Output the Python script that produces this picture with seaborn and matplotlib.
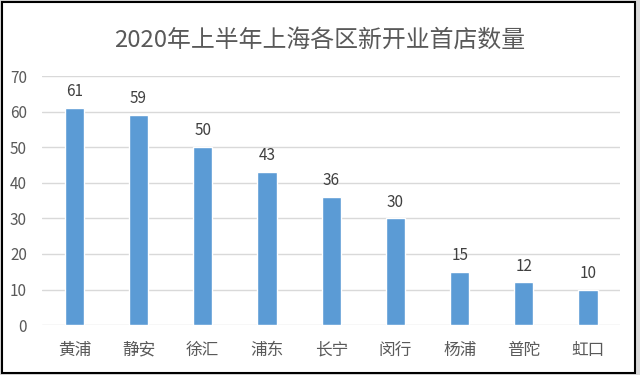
import matplotlib
matplotlib.use('Agg')
import matplotlib.pyplot as plt
import seaborn as sns
import pandas as pd
from matplotlib.patches import Rectangle

# 各区新开业首店数量
districts = ['黄浦', '静安', '徐汇', '浦东', '长宁', '闵行', '杨浦', '普陀', '虹口']
counts = [61, 59, 50, 43, 36, 30, 15, 12, 10]
yticks = [0, 10, 20, 30, 40, 50, 60, 70]
title = '2020年上半年上海各区新开业首店数量'

sns.set_theme(style='white')
plt.rcParams['font.family'] = ['Noto Sans CJK SC', 'DejaVu Sans']

df = pd.DataFrame({'district': districts, 'count': counts})

fig = plt.figure(figsize=(6.4, 3.75), dpi=100)
fig.patch.set_facecolor('#D9D9D9')
# white card with black frame
fig.patches.append(Rectangle((0.003, 0.005), 0.989, 0.99, transform=fig.transFigure,
                             facecolor='white', edgecolor='black', linewidth=1.5, zorder=-1))

ax = fig.add_axes([0.066, 0.133, 0.903, 0.664])
ax.set_zorder(2)
ax.set_facecolor('white')

sns.barplot(data=df, x='district', y='count', color='#5B9BD5', saturation=1,
            width=0.3, ax=ax, zorder=3)

ax.set_ylim(0, 70)
ax.set_yticks(yticks)
ax.yaxis.grid(True, color='#D9D9D9', linewidth=1, zorder=0)
ax.set_xlabel('')
ax.set_ylabel('')
for s in ax.spines.values():
    s.set_visible(False)
ax.tick_params(axis='both', length=0, colors='#595959')
ax.tick_params(axis='x', labelsize=12, pad=12)
ax.tick_params(axis='y', labelsize=11, pad=11)

for i, v in enumerate(counts):
    ax.text(i, v + 2.2, str(v), ha='center', va='bottom', fontsize=11, color='#404040')

fig.text(0.5, 0.893, title, ha='center', va='center', fontsize=17.2, color='#595959', zorder=3)

fig.savefig('out.png', dpi=100, facecolor=fig.get_facecolor())
